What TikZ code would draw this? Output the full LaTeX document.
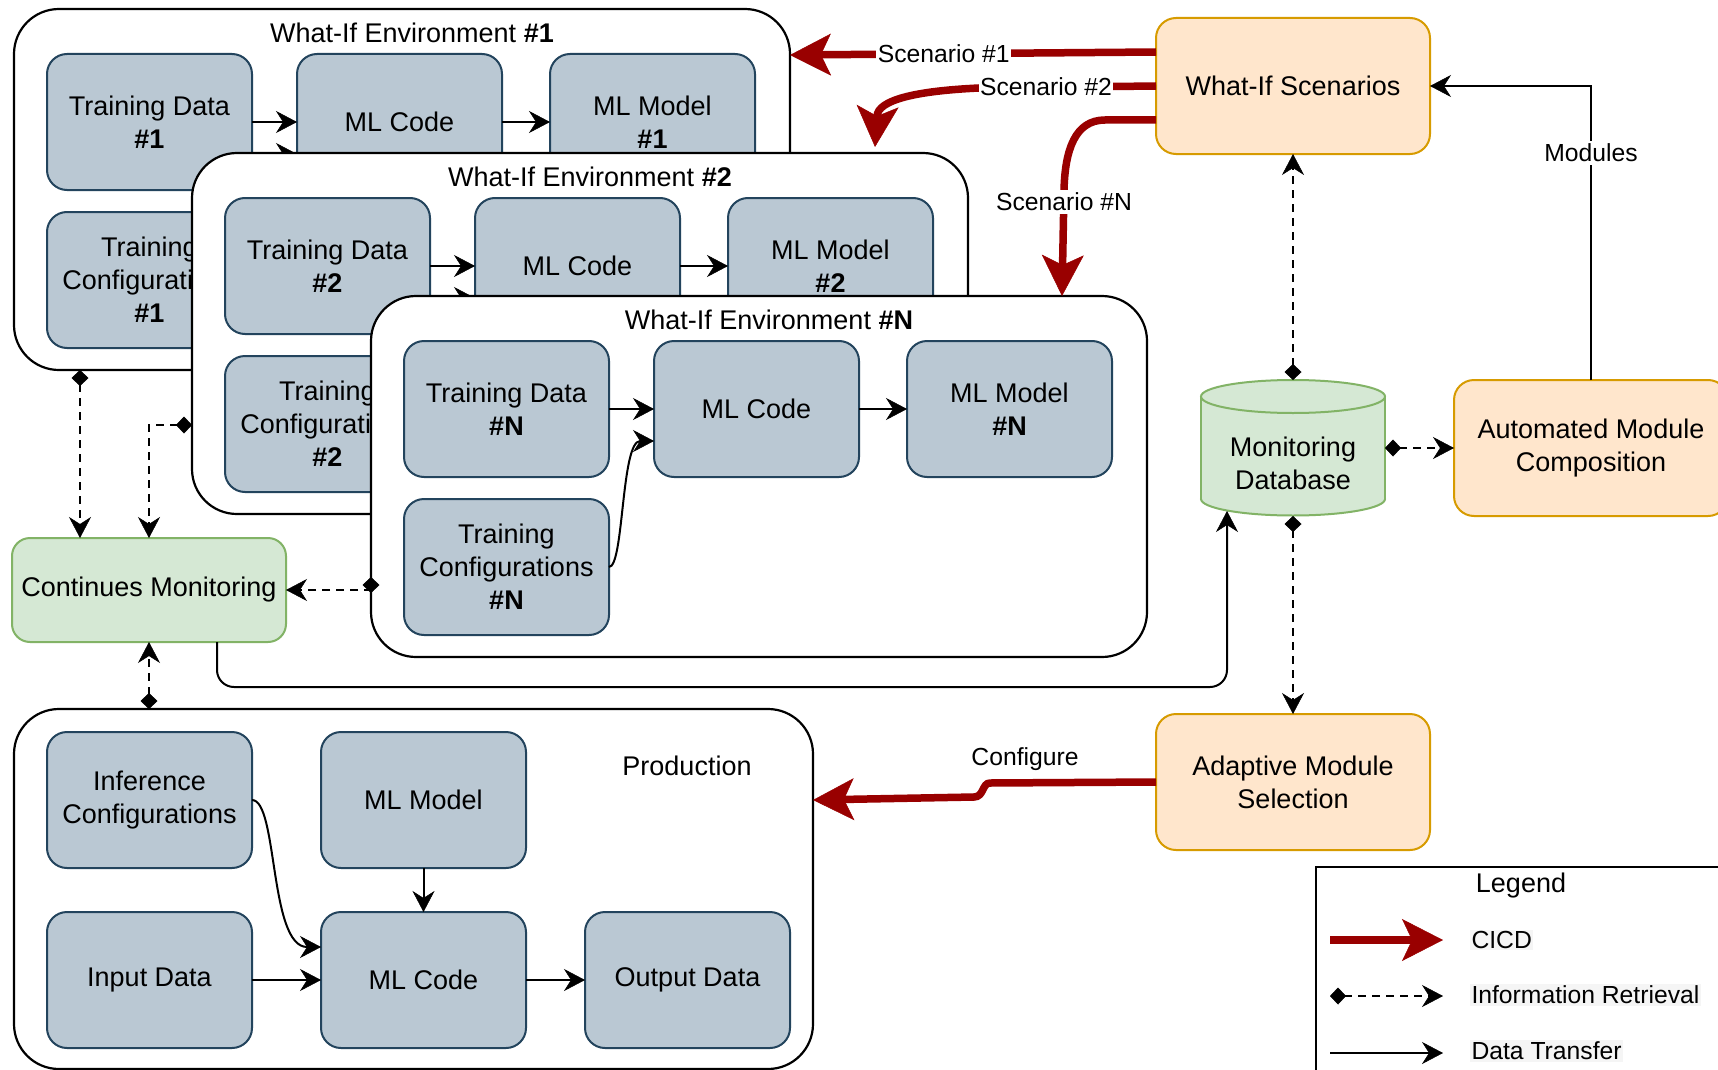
\documentclass[tikz,border=0pt]{standalone}
\usepackage{fontspec}
\setmainfont{Liberation Sans}
\usetikzlibrary{arrows.meta,calc}
\definecolor{boxfill}{HTML}{BAC8D3}
\definecolor{boxdraw}{HTML}{23445D}
\definecolor{orfill}{HTML}{FFE6CC}
\definecolor{ordraw}{HTML}{D79B00}
\definecolor{grfill}{HTML}{D5E8D4}
\definecolor{grdraw}{HTML}{82B366}
\definecolor{cicdred}{HTML}{990000}
\tikzset{
  every node/.style={inner sep=0pt, outer sep=0pt},
  maintxt/.style={font=\fontsize{27}{33}\selectfont, align=center},
  mlbox/.style={maintxt, draw=boxdraw, fill=boxfill, line width=2pt, rounded corners=20pt, minimum width=205pt, minimum height=136pt},
  envbox/.style={draw=black, fill=white, line width=2.2pt, rounded corners=45pt},
  envtitle/.style={font=\fontsize{27}{32}\selectfont},
  orbox/.style={maintxt, draw=ordraw, fill=orfill, line width=2pt, rounded corners=20pt, minimum width=274pt, minimum height=136pt},
  grbox/.style={maintxt, draw=grdraw, fill=grfill, line width=2pt, rounded corners=18pt},
  lbl/.style={font=\fontsize{24.7}{30}\selectfont, inner sep=1.5pt},
  dt/.style={-{Stealth[length=21pt,width=22pt,inset=7pt,line width=0.5pt]}, line width=2pt},
  ir/.style={{Diamond[length=16pt,width=17pt,line width=0.5pt]}-{Stealth[length=21pt,width=22pt,inset=7pt,line width=0.5pt]}, line width=2pt, dash pattern=on 8pt off 6pt},
  cicdline/.style={-{Stealth[length=41pt,width=42pt,inset=10pt,line width=0.5pt]}, line width=7.5pt, draw=cicdred, fill=none},
}
\newcommand{\WhatIfEnv}[3]{%
\begin{scope}[shift={(#1,#2)}]
\node[envbox, anchor=north west, minimum width=776pt, minimum height=361pt] (env#3) at (0,0) {};
\node[envtitle] (title#3) at (398,24) {What-If Environment \textbf{\##3}};
\node[mlbox, anchor=north west] (td#3) at (33,45) {Training Data\\\textbf{\##3}};
\node[mlbox, anchor=north west] (mc#3) at (283,45) {ML Code};
\node[mlbox, anchor=north west] (mm#3) at (536,45) {ML Model\\\textbf{\##3}};
\node[mlbox, anchor=north west] (tc#3) at (33,203) {Training\\Configurations\\\textbf{\##3}};
\draw[dt] (td#3.east) -- (mc#3.west);
\draw[dt] (mc#3.east) -- (mm#3.west);
\draw[dt] (tc#3.east) .. controls +(15,0) and +(-33,0) .. ([yshift=-32pt]mc#3.west);
\end{scope}}
\begin{document}
\begin{tikzpicture}[x=1pt,y=-1pt]
\clip (0,0) rectangle (1718,1070);
\fill[white] (0,0) rectangle (1718,1070);

% what-if environments
\WhatIfEnv{14}{9}{1}
\WhatIfEnv{192}{153}{2}
\WhatIfEnv{371}{296}{N}

% production
\node[envbox, anchor=north west, minimum width=799pt, minimum height=360pt] (prod) at (14,709) {};
\node[maintxt] (prodtitle) at (687,766) {Production};
\node[mlbox, anchor=north west] (ic) at (47,732) {Inference\\Configurations};
\node[mlbox, anchor=north west] (pmm) at (321,732) {ML Model};
\node[mlbox, anchor=north west] (in) at (47,912) {Input Data};
\node[mlbox, anchor=north west] (pmc) at (321,912) {ML Code};
\node[mlbox, anchor=north west] (out) at (585,912) {Output Data};
\draw[dt] (ic.east) .. controls +(26,0) and +(-52,0) .. ([yshift=33pt]pmc.west);
\draw[dt] (pmm.south) -- (pmc.north);
\draw[dt] (in.east) -- (pmc.west);
\draw[dt] (pmc.east) -- (out.west);

% other nodes
\node[grbox, minimum width=274pt, minimum height=104pt] (cm) at (149,590) {Continues Monitoring};
\node[orbox] (wis) at (1293,86) {What-If Scenarios};
\node[orbox] (ams) at (1293,782) {Adaptive Module\\Selection};
\node[orbox] (amc) at (1591,448) {Automated Module\\Composition};

% monitoring database (cylinder)
\node[minimum width=184pt, minimum height=136pt] (db) at (1293,448) {};
\filldraw[draw=grdraw, fill=grfill, line width=2pt] (1293,499) ellipse [x radius=92, y radius=16.5];
\fill[grfill] (1201,396.5) rectangle (1385,499);
\draw[grdraw, line width=2pt] (1201,396.5) -- (1201,499) (1385,396.5) -- (1385,499);
\filldraw[draw=grdraw, fill=grfill, line width=2pt] (1293,396.5) ellipse [x radius=92, y radius=16.5];
\node[maintxt] (dbtxt) at (1293,463) {Monitoring\\Database};

% information retrieval connectors
\draw[ir] ([xshift=66pt]env1.south west) -- ([xshift=66pt]env1.south west |- cm.north);
\draw[ir] ([yshift=-272pt]env2.north west) -| ([xshift=137pt]cm.north west);
\draw[ir] ([yshift=-281pt]envN.north west) |- (cm.east);
\draw[ir] ([xshift=135pt]prod.north west) -- ([xshift=135pt]prod.north west |- cm.south);
\draw[ir] (db.north) -- (wis.south);
\draw[ir] (db.east) -- (amc.west);
\draw[ir] (db.south) -- (ams.north);

% data transfer connectors
\draw[dt, rounded corners=17pt] ([xshift=205pt]cm.south west) -- ++(0,45) -| ([xshift=-66pt,yshift=-63pt]db.center);
\draw[dt] (amc.north) |- (wis.east);
\node[lbl, fill=white, inner sep=3pt] (modlbl) at (1591,153) {Modules};

% CICD connectors
\draw[cicdline] ([yshift=34pt]wis.west) -- node[lbl, fill=white, pos=0.58] (s1) {Scenario \#1} ([yshift=-46pt]env1.north east);
\draw[cicdline] (wis.west) -- (979,88) .. controls (915,91) and (878,100) .. ([xshift=683pt,yshift=6pt]env2.north west);
\node[lbl, fill=white] (s2) at (1046,87) {Scenario \#2};
\draw[cicdline] ([yshift=-34pt]wis.west) -- (1105,120) .. controls (1075,120) and (1065,150) .. (1064,190) -- ([xshift=691pt]envN.north west);
\node[lbl, fill=white, inner sep=3pt] (sN) at (1064,202) {Scenario \#N};
\draw[cicdline] (ams.west) -- (990,783) .. controls (982,783) and (984,797) .. (974,797) -- ([yshift=-91pt]prod.north east);
\node[lbl] (cfg) at (1025,759) {Configure};

% legend
\node[draw, line width=2pt, anchor=north west, minimum width=430pt, minimum height=230pt] (legend) at (1316,867) {};
\node[maintxt] (legtitle) at (1521,886) {Legend};
\coordinate (l1a) at (1330,940); \coordinate (l1b) at (1443,940);
\coordinate (l2a) at (1330,996); \coordinate (l2b) at (1443,996);
\coordinate (l3a) at (1330,1053); \coordinate (l3b) at (1443,1053);
\draw[cicdline] (l1a) -- (l1b);
\draw[ir] (l2a) -- (l2b);
\draw[dt] (l3a) -- (l3b);
\node[lbl, fill=black!4, anchor=west] (lg1) at (1470,940) {CICD};
\node[lbl, fill=black!4, anchor=west] (lg2) at (1470,995) {Information Retrieval};
\node[lbl, fill=black!4, anchor=west] (lg3) at (1470,1051) {Data Transfer};
\end{tikzpicture}
\end{document}
